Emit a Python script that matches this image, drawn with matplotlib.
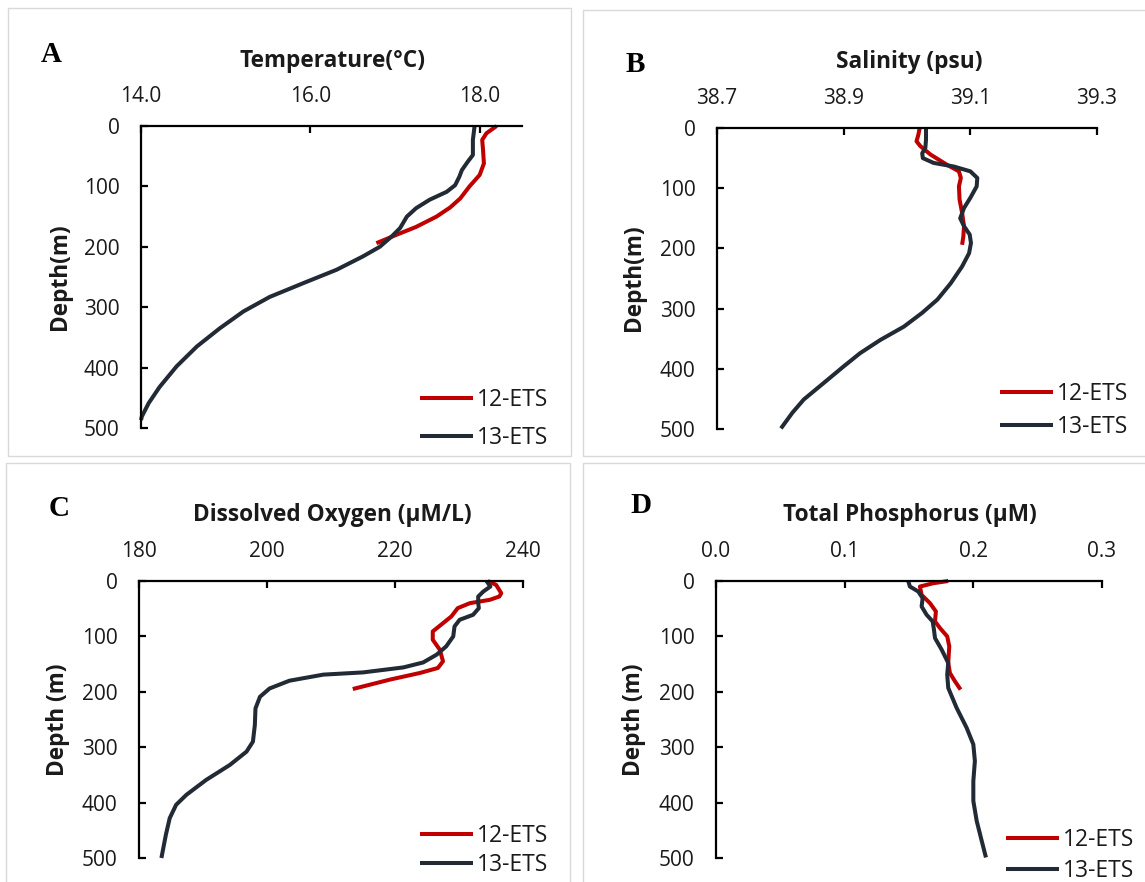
import matplotlib
matplotlib.use("Agg")
import matplotlib.pyplot as plt
from matplotlib.patches import Rectangle

plt.rcParams['font.family'] = ['Open Sans', 'DejaVu Sans']

# ---------------- data ----------------
series_labels = ["12-ETS", "13-ETS"]
depth_ticks = [0, 100, 200, 300, 400, 500]

# Panel A: Temperature
temp_12_depth = [0, 12, 23, 40, 62, 81, 100, 120, 135, 150, 167, 180, 194]
temp_12 = [18.20, 18.08, 18.03, 18.04, 18.05, 18.00, 17.88, 17.77, 17.65, 17.49, 17.25, 17.02, 16.78]
temp_13_depth = [0, 23, 48, 59, 73, 84, 98, 109, 122, 136, 150, 169, 183, 200, 216, 238, 260, 283, 307, 335, 365, 398, 432, 459, 481, 487]
temp_13 = [17.94, 17.92, 17.92, 17.86, 17.79, 17.76, 17.71, 17.61, 17.41, 17.25, 17.14, 17.06, 16.96, 16.82, 16.62, 16.31, 15.92, 15.52, 15.21, 14.93, 14.66, 14.42, 14.22, 14.09, 14.01, 14.00]
temp_ticks = [14.0, 16.0, 18.0]

# Panel B: Salinity
sal_12_depth = [0, 11, 22, 30, 44, 61, 72, 83, 97, 119, 141, 163, 180, 194]
sal_12 = [39.020, 39.018, 39.015, 39.021, 39.037, 39.063, 39.082, 39.085, 39.082, 39.083, 39.087, 39.090, 39.089, 39.087]
sal_13_depth = [0, 19, 33, 42, 50, 58, 64, 72, 83, 97, 116, 133, 150, 163, 177, 191, 208, 230, 258, 285, 307, 330, 352, 374, 396, 424, 451, 473, 499]
sal_13 = [39.030, 39.030, 39.029, 39.024, 39.025, 39.042, 39.074, 39.100, 39.111, 39.110, 39.100, 39.090, 39.084, 39.090, 39.099, 39.101, 39.098, 39.087, 39.069, 39.048, 39.024, 38.995, 38.958, 38.926, 38.900, 38.868, 38.837, 38.819, 38.801]
sal_ticks = [38.7, 38.9, 39.1, 39.3]

# Panel C: Dissolved oxygen
ox_12_depth = [0, 7, 22, 28, 34, 40, 49, 64, 78, 91, 106, 124, 145, 157, 166, 178, 195]
ox_12 = [234.5, 235.8, 236.6, 236.3, 234.8, 231.7, 229.8, 228.8, 227.3, 225.9, 225.9, 227.0, 227.5, 226.7, 223.9, 219.2, 213.4]
ox_13_depth = [0, 10, 19, 28, 40, 49, 61, 70, 82, 100, 118, 133, 147, 156, 165, 169, 180, 194, 209, 230, 260, 290, 308, 332, 359, 386, 404, 428, 458, 482, 500]
ox_13 = [234.3, 234.9, 233.8, 233.0, 233.0, 233.1, 232.2, 230.1, 229.3, 229.1, 228.0, 226.5, 224.4, 221.3, 215.0, 208.8, 203.5, 200.4, 198.9, 198.2, 198.1, 197.8, 196.8, 194.2, 190.5, 187.4, 185.8, 184.8, 184.2, 183.8, 183.5]
ox_ticks = [180, 200, 220, 240]

# Panel D: Total phosphorus
tp_12_depth = [0, 4, 10, 25, 40, 55, 73, 85, 100, 118, 148, 166, 181, 196]
tp_12 = [0.1805, 0.1689, 0.1585, 0.1598, 0.1663, 0.1709, 0.1702, 0.1741, 0.1797, 0.1813, 0.1805, 0.1818, 0.1857, 0.1901]
tp_13_depth = [0, 10, 19, 31, 46, 61, 73, 88, 103, 124, 148, 169, 193, 229, 265, 295, 325, 361, 397, 433, 469, 499]
tp_13 = [0.1494, 0.1507, 0.1572, 0.1606, 0.1598, 0.1637, 0.1684, 0.1694, 0.1702, 0.1754, 0.1805, 0.1797, 0.1805, 0.1870, 0.1948, 0.2000, 0.2012, 0.2000, 0.2000, 0.2026, 0.2065, 0.2098]
tp_ticks = [0.0, 0.1, 0.2, 0.3]

# ---------------- style ----------------
W, H = 1145, 882
RED = '#C00000'
DARK = '#222A35'
TXT = '#1a1a1a'
LW = 2.9

fig = plt.figure(figsize=(W / 100, H / 100), dpi=100)


def fx(x):
    return x / W


def fy(y):
    return 1 - y / H


def add_box(x0, y0, x1, y1):
    fig.add_artist(Rectangle((fx(x0), fy(y1)), (x1 - x0) / W, (y1 - y0) / H,
                             transform=fig.transFigure, fill=False,
                             ec='#D9D9D9', lw=1.0))


add_box(8, 8, 571, 456)
add_box(583, 10, 1150, 456)
add_box(6, 463, 570, 890)
add_box(583, 463, 1150, 890)


def make_panel(l, r, t, b, xlim, xticks, fmt,
               d12, v12, d13, v13, letter, letter_xy,
               title, title_xy, ylabel, ylabel_xy,
               leg_xy, leg_spacing):
    ax = fig.add_axes([fx(l), fy(b), (r - l) / W, (b - t) / H])
    l12, = ax.plot(v12, d12, color=RED, lw=LW, solid_capstyle='butt',
                   solid_joinstyle='round', clip_on=False, label=series_labels[0])
    l13, = ax.plot(v13, d13, color=DARK, lw=LW, solid_capstyle='butt',
                   solid_joinstyle='round', clip_on=False, label=series_labels[1])
    ax.set_xlim(*xlim)
    ax.set_ylim(500, 0)
    ax.xaxis.tick_top()
    ax.set_xticks(xticks)
    ax.set_xticklabels([fmt.format(v) for v in xticks])
    ax.set_yticks(depth_ticks)
    ax.set_yticklabels([str(v) for v in depth_ticks])
    for s in ['right', 'bottom']:
        ax.spines[s].set_visible(False)
    for s in ['left', 'top']:
        ax.spines[s].set_linewidth(1.6)
        ax.spines[s].set_color('black')
    ax.tick_params(axis='x', direction='in', length=5, width=1.6,
                   labelsize=15, pad=13.5, colors='black', labelcolor=TXT)
    ax.tick_params(axis='y', direction='in', length=5, width=1.6,
                   labelsize=15, pad=15.5, colors='black', labelcolor=TXT)
    ax.patch.set_visible(False)

    fig.text(fx(letter_xy[0]), fy(letter_xy[1]), letter,
             family=['Liberation Serif', 'DejaVu Serif'], weight='bold',
             fontsize=21, ha='center', va='baseline', color='black')
    fig.text(fx(title_xy[0]), fy(title_xy[1]), title, weight='bold',
             fontsize=16.3, ha='center', va='baseline', color=TXT)
    fig.text(fx(ylabel_xy[0]), fy(ylabel_xy[1]), ylabel, weight='bold',
             fontsize=16.3, ha='center', va='center', rotation=90, color=TXT)

    leg = ax.legend(handles=[l12, l13], loc='center left',
                    bbox_to_anchor=(fx(leg_xy[0]), fy(leg_xy[1])),
                    bbox_transform=fig.transFigure, frameon=False,
                    borderpad=0, borderaxespad=0, handlelength=2.3,
                    handletextpad=0.17, labelspacing=leg_spacing,
                    fontsize=16.5)
    for tx in leg.get_texts():
        tx.set_color(TXT)
    for ln in leg.get_lines():
        ln.set_linewidth(LW)
    return ax


make_panel(141, 522, 126, 428, (14.0, 18.5), temp_ticks, '{:.1f}',
           temp_12_depth, temp_12, temp_13_depth, temp_13,
           'A', (51, 62), 'Temperature(°C)', (332, 67),
           'Depth(m)', (60, 277), (420, 419), 0.62)

make_panel(717, 1097, 128, 429, (38.7, 39.3), sal_ticks, '{:.1f}',
           sal_12_depth, sal_12, sal_13_depth, sal_13,
           'B', (635, 72), 'Salinity (psu)', (909, 68),
           'Depth(m)', (634, 278), (1000, 410.5), 0.42)

make_panel(139, 523, 581, 858, (180, 240), ox_ticks, '{:d}',
           ox_12_depth, ox_12, ox_13_depth, ox_13,
           'C', (59, 516), 'Dissolved Oxygen (µM/L)', (332, 521),
           'Depth (m)', (58, 720), (420, 850.5), 0.25)

make_panel(716, 1102, 581, 858, (0.0, 0.3), tp_ticks, '{:.1f}',
           tp_12_depth, tp_12, tp_13_depth, tp_13,
           'D', (641, 513), 'Total Phosphorus (µM)', (910, 521),
           'Depth (m)', (634, 720), (1006, 855.5), 0.33)

fig.savefig('out.png', dpi=100)
